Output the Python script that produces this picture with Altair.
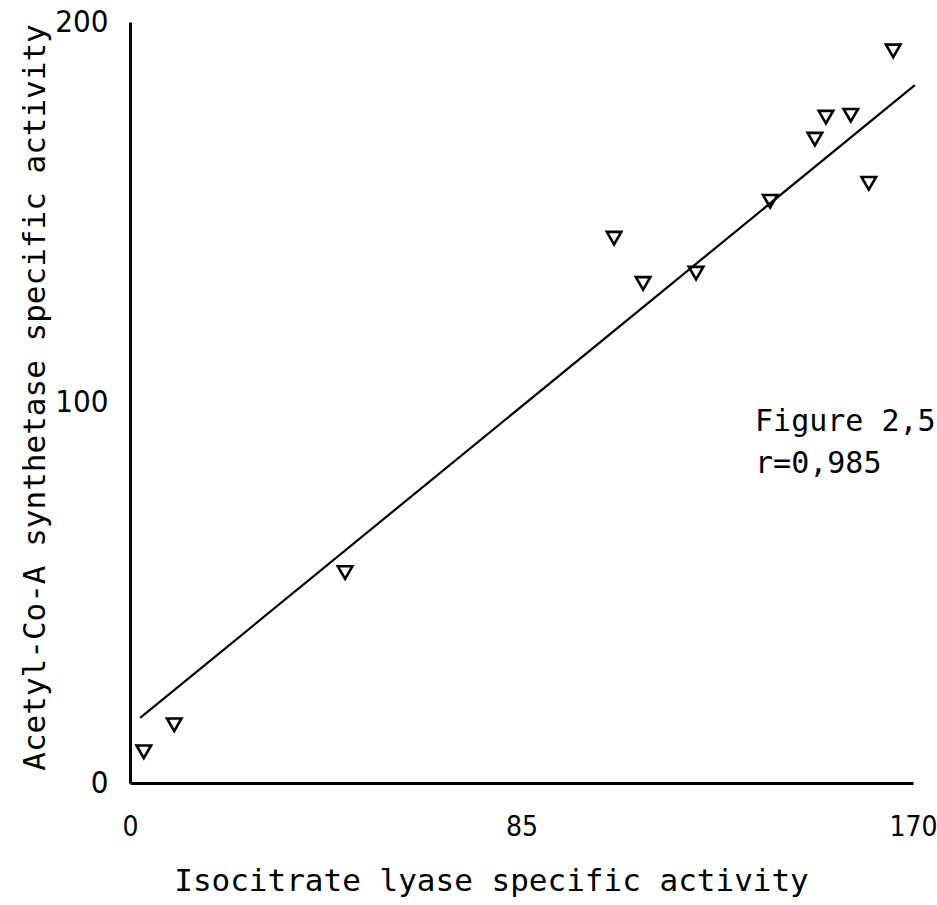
import altair as alt
import pandas as pd

# Measured specific activities (isocitrate lyase vs acetyl-CoA synthetase)
icl_activity = [3.0, 9.6, 46.7, 105.1, 111.4, 122.9, 139.0, 148.7, 151.1, 156.5, 160.4, 165.7]
acs_activity = [8.2, 15.3, 55.3, 143.2, 131.3, 134.0, 152.9, 169.2, 175.0, 175.5, 157.6, 192.4]

# Fitted regression line end points
fit_x = [2.2, 170.4]
fit_y = [17.1, 183.4]

x_ticks = [0, 85, 170]
y_ticks = [0, 100, 200]

points = pd.DataFrame({"icl": icl_activity, "acs": acs_activity})
fit = pd.DataFrame({"icl": fit_x, "acs": fit_y})
notes = pd.DataFrame({
    "icl": [135.7, 135.7],
    "acs": [92.6, 81.6],
    "label": ["Figure 2,5", "r=0,985"],
})

mono = "DejaVu Sans Mono"
narrow = "DejaVu Sans Condensed"

x_enc = alt.X(
    "icl:Q",
    scale=alt.Scale(domain=[0, 170], nice=False, zero=False),
    axis=alt.Axis(
        title="Isocitrate lyase specific activity",
        values=x_ticks,
        labelFont=narrow,
        labelFontSize=28,
        labelPadding=30,
        labelFlush=False,
        titleFont=mono,
        titleFontSize=31,
        titleFontWeight="normal",
        titleX=361,
        titleY=107,
        titleAlign="center",
        titleBaseline="alphabetic",
    ),
)
y_enc = alt.Y(
    "acs:Q",
    scale=alt.Scale(domain=[0, 200], nice=False, zero=False),
    axis=alt.Axis(
        title="Acetyl-Co-A synthetase specific activity",
        values=y_ticks,
        labelFont=narrow,
        labelFontSize=31,
        labelPadding=22,
        labelFlush=False,
        titleFont=mono,
        titleFontSize=31,
        titleFontWeight="normal",
        titleX=-95,
        titleY=375,
        titleAngle=-90,
        titleAlign="center",
        titleBaseline="middle",
    ),
)

scatter = alt.Chart(points).mark_point(
    shape="triangle-down", filled=False, color="black", size=210, strokeWidth=2.6, opacity=1
).encode(x=x_enc, y=y_enc)

line = alt.Chart(fit).mark_line(color="black", strokeWidth=2.2).encode(x="icl:Q", y="acs:Q")

text = alt.Chart(notes).mark_text(
    align="left", baseline="alphabetic", font=mono, fontSize=30, color="black"
).encode(x="icl:Q", y="acs:Q", text="label:N")

chart = (
    alt.layer(line, scatter, text)
    .properties(
        width=783,
        height=761,
        autosize=alt.AutoSizeParams(type="none"),
        padding={"left": 130, "top": 22, "right": 24, "bottom": 122},
        background="white",
    )
    .configure_view(stroke=None)
    .configure_axis(
        grid=False,
        ticks=False,
        domainColor="black",
        domainWidth=3,
        labelColor="black",
        titleColor="black",
    )
)

chart.save("out.html", embed_options={"renderer": "svg", "actions": False})
